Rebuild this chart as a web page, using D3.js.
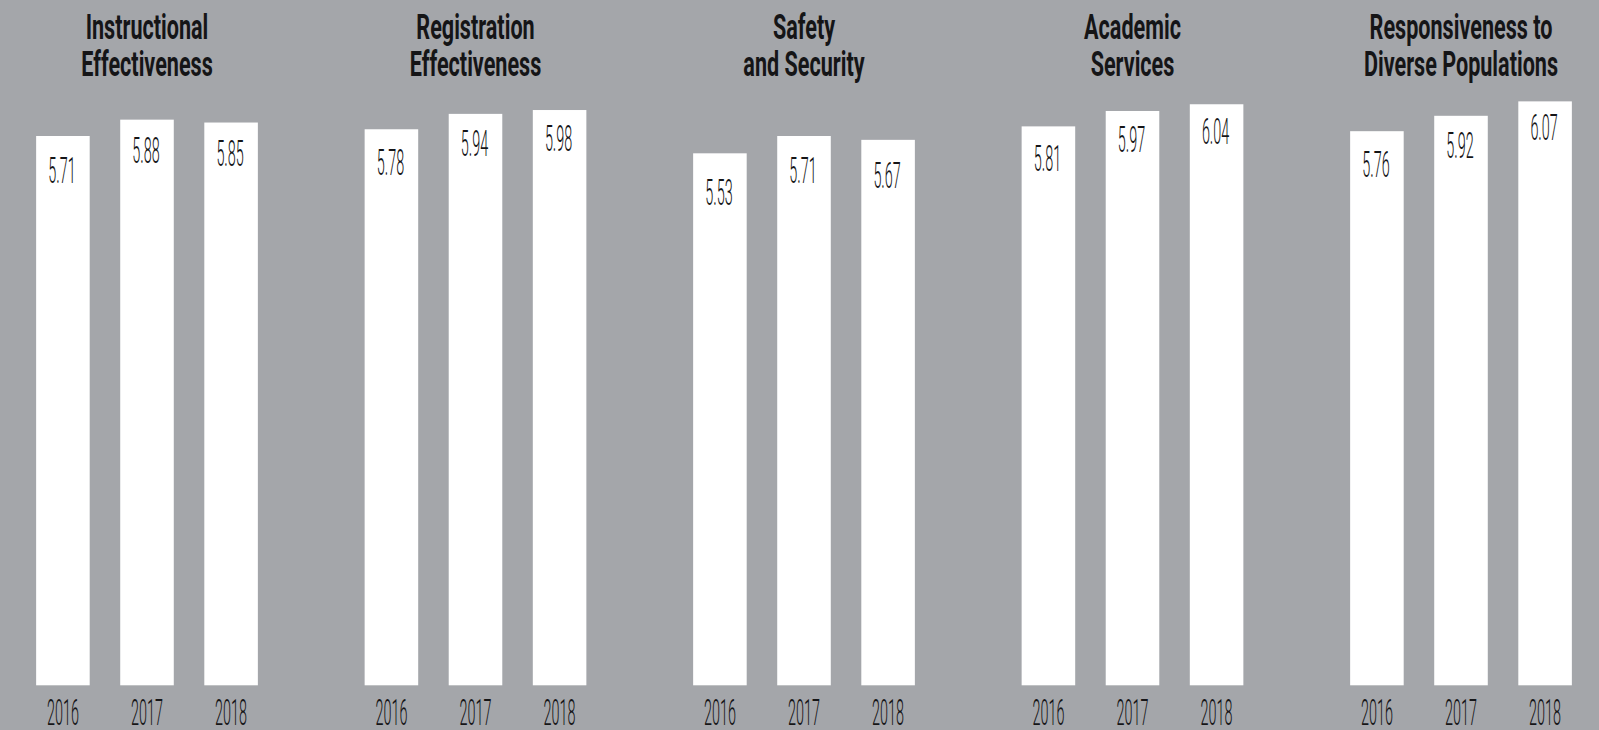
<!DOCTYPE html>
<html>
<head>
<meta charset="utf-8">
<script src="https://cdn.jsdelivr.net/npm/d3@7"></script>
<style>
  html, body { margin: 0; padding: 0; background: #a4a6aa; overflow: hidden; }
  svg { display: block; font-family: Roboto, "Liberation Sans", sans-serif; }
</style>
</head>
<body>
<div id="chart"></div>
<script>
// data
const categories = [
    ["Instructional", "Effectiveness"],
    ["Registration", "Effectiveness"],
    ["Safety", "and Security"],
    ["Academic", "Services"],
    ["Responsiveness to", "Diverse Populations"]
];
const years = ["2016", "2017", "2018"];
const values2016 = [5.71, 5.78, 5.53, 5.81, 5.76];
const values2017 = [5.88, 5.94, 5.71, 5.97, 5.92];
const values2018 = [5.85, 5.98, 5.67, 6.04, 6.07];

const width = 1599, height = 730;
const bg = "#a4a6aa", ink = "#151517";

const series = [values2016, values2017, values2018];
const rows = categories.map((c, i) => ({
    key: c.join(" "),
    title: c,
    bars: years.map((yr, j) => ({ year: yr, value: series[j][i] }))
}));

const svg = d3.select("#chart")
    .append("svg")
    .attr("width", width)
    .attr("height", height);

svg.append("rect").attr("width", width).attr("height", height).attr("fill", bg);

// group centres + bars inside each group
const x0 = d3.scalePoint()
    .domain(rows.map(d => d.key))
    .range([147, 1461]);

const x1 = d3.scaleBand()
    .domain(years)
    .range([-126, 126])
    .paddingInner(0.363)
    .paddingOuter(0.18);

const y = d3.scaleLinear()
    .domain([0, 7])
    .range([685.3, 685.3 - 7 * 96.2]);

// value labels sit on their own, steeper scale
const yLabel = d3.scaleLinear()
    .domain([0, 7])
    .range([864.8, 864.8 - 7 * 119.4]);

const groups = svg.selectAll("g.cat")
    .data(rows)
    .enter()
    .append("g")
    .attr("class", "cat")
    .attr("transform", d => `translate(${x0(d.key)},0)`);

// titles: one text, two lines
groups.append("text")
    .attr("class", "title")
    .attr("transform", "translate(0,38.8) scale(0.6,1)")
    .attr("text-anchor", "middle")
    .attr("font-size", 36)
    .attr("font-weight", 700)
    .attr("fill", ink)
    .selectAll("tspan")
    .data(d => d.title)
    .enter()
    .append("tspan")
    .attr("x", 0)
    .attr("dy", (d, k) => k === 0 ? 0 : 37.2)
    .text(d => d);

groups.selectAll("rect.bar")
    .data(d => d.bars)
    .enter()
    .append("rect")
    .attr("class", "bar")
    .attr("x", d => x1(d.year))
    .attr("y", d => y(d.value))
    .attr("width", x1.bandwidth())
    .attr("height", d => y(0) - y(d.value))
    .attr("fill", "#ffffff");

groups.selectAll("text.val")
    .data(d => d.bars)
    .enter()
    .append("text")
    .attr("class", "val")
    .attr("transform", d => `translate(${x1(d.year) + x1.bandwidth() / 2 - 1},${yLabel(d.value)}) scale(0.4,1)`)
    .attr("text-anchor", "middle")
    .attr("font-size", 36)
    .attr("font-weight", 300)
    .attr("fill", ink)
    .text(d => d.value.toFixed(2));

groups.selectAll("text.year")
    .data(d => d.bars)
    .enter()
    .append("text")
    .attr("class", "year")
    .attr("transform", d => `translate(${x1(d.year) + x1.bandwidth() / 2},724.5) scale(0.4,1)`)
    .attr("text-anchor", "middle")
    .attr("font-size", 36)
    .attr("font-weight", 300)
    .attr("fill", ink)
    .text(d => d.year);
</script>
</body>
</html>
